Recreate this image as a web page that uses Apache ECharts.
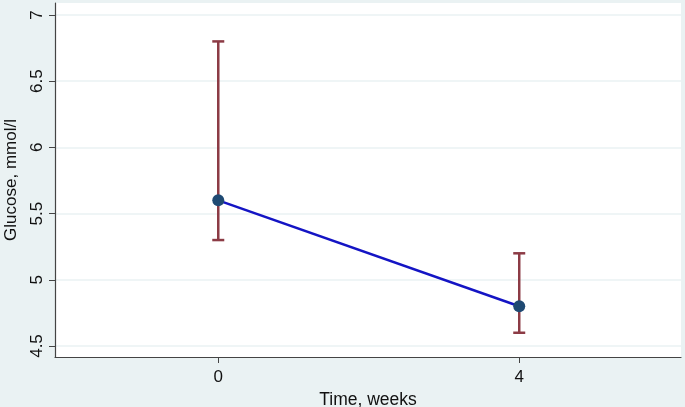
<!DOCTYPE html>
<html lang="en">
<head>
    <meta charset="UTF-8">
    <title>Glucose</title>
    <style>
        html, body { margin: 0; padding: 0; background: #eaf2f3; }
    </style>
</head>
<body>
<div id="main" style="width: 685px;height:407px;"></div>
<script src="https://cdn.jsdelivr.net/npm/echarts@6/dist/echarts.min.js"></script>
<script>
    var weeks = [0, 4];
    var means = [5.6, 4.8];
    var lower = [5.3, 4.6];
    var upper = [6.8, 5.2];
    var yTicks = [4.5, 5, 5.5, 6, 6.5, 7];
    var yTickLabels = ['4.5', '5', '5.5', '6', '6.5', '7'];
    var xTicks = [0, 4];

    var myChart = echarts.init(document.getElementById('main'));

    var barData = [], lineData = [];
    for (var i = 0; i < weeks.length; i++) {
        barData.push([weeks[i], lower[i], upper[i]]);
        lineData.push([weeks[i], means[i]]);
    }

    var font = '"Liberation Sans", Arial, sans-serif';

    var option = {
        backgroundColor: '#eaf2f3',
        animation: false,
        grid: {
            left: 55,
            right: 4,
            top: 3,
            bottom: 50,
            outerBoundsMode: 'none',
            show: true,
            backgroundColor: '#ffffff',
            borderWidth: 0
        },
        xAxis: {
            type: 'value',
            min: -2.17,
            max: 6.15,
            name: 'Time, weeks',
            nameLocation: 'middle',
            nameGap: 30,
            nameTextStyle: { color: '#111', fontSize: 17.5, fontFamily: font },
            axisLine: { show: true, onZero: false, lineStyle: { color: '#444', width: 1.2 } },
            axisTick: { show: true, length: 6, customValues: xTicks, lineStyle: { color: '#444' } },
            axisLabel: {
                customValues: xTicks,
                color: '#111',
                fontSize: 17,
                fontFamily: font,
                margin: 12
            },
            splitLine: { show: false }
        },
        yAxis: {
            type: 'value',
            min: 4.417,
            max: 7.09,
            name: 'Glucose, mmol/l',
            nameLocation: 'middle',
            nameGap: 35,
            nameRotate: 90,
            nameTextStyle: { color: '#111', fontSize: 17, fontFamily: font },
            axisLine: { show: true, onZero: false, lineStyle: { color: '#444', width: 1.2 } },
            axisTick: { show: true, length: 6, customValues: yTicks, lineStyle: { color: '#444' } },
            axisLabel: {
                customValues: yTicks,
                rotate: 90,
                color: '#111',
                fontSize: 17,
                fontFamily: font,
                margin: 9,
                formatter: function (v) {
                    var idx = yTicks.indexOf(v);
                    return idx >= 0 ? yTickLabels[idx] : '';
                }
            },
            splitLine: { show: true, lineStyle: { color: '#eaf2f3', width: 1.5 } }
        },
        series: [
            {
                type: 'custom',
                z: 2,
                data: barData,
                renderItem: function (params, api) {
                    var lo = api.coord([api.value(0), api.value(1)]);
                    var hi = api.coord([api.value(0), api.value(2)]);
                    var w = 6;
                    var style = { stroke: '#8c3b45', lineWidth: 2.5, fill: null };
                    return {
                        type: 'group',
                        children: [
                            { type: 'line', shape: { x1: lo[0], y1: lo[1], x2: hi[0], y2: hi[1] }, style: style },
                            { type: 'line', shape: { x1: lo[0] - w, y1: lo[1], x2: lo[0] + w, y2: lo[1] }, style: style },
                            { type: 'line', shape: { x1: hi[0] - w, y1: hi[1], x2: hi[0] + w, y2: hi[1] }, style: style }
                        ]
                    };
                }
            },
            {
                type: 'line',
                z: 3,
                data: lineData,
                symbol: 'circle',
                symbolSize: 12,
                lineStyle: { color: '#1414c4', width: 2.5 },
                itemStyle: { color: '#1f4a73' }
            }
        ]
    };

    myChart.setOption(option);
</script>
</body>
</html>
